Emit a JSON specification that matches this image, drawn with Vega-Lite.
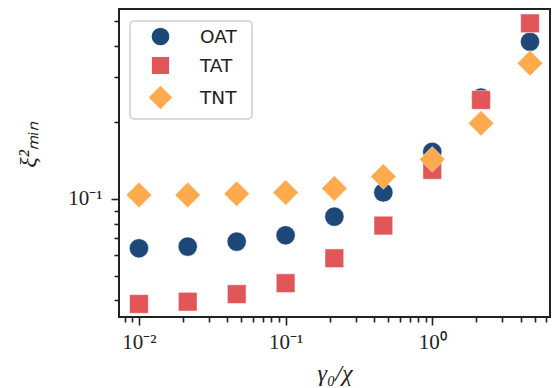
{
  "$schema": "https://vega.github.io/schema/vega-lite/v6.json",
  "width": 431,
  "height": 308,
  "autosize": "none",
  "padding": {"left": 119, "top": 9, "right": 5, "bottom": 71},
  "background": "white",
  "config": {
    "view": {"stroke": "#222222", "strokeWidth": 2},
    "axis": {"grid": false, "domain": false, "tickColor": "#222222", "tickWidth": 1.6, "labelFont": "Liberation Serif", "labelFontSize": 21, "labelColor": "#222222", "titleFont": "Liberation Serif", "titleFontSize": 24, "titleFontWeight": "normal", "titleColor": "#222222"},
    "legend": {"labelFont": "DejaVu Sans", "labelFontSize": 18.5, "labelColor": "#222222", "strokeWidth": 2}
  },
  "data": {
    "values": [
      {"series": "OAT", "x": 0.01, "y": 0.0640},
      {"series": "OAT", "x": 0.0215, "y": 0.0650},
      {"series": "OAT", "x": 0.0464, "y": 0.0680},
      {"series": "OAT", "x": 0.1, "y": 0.0720},
      {"series": "OAT", "x": 0.215, "y": 0.0852},
      {"series": "OAT", "x": 0.464, "y": 0.106},
      {"series": "OAT", "x": 1.0, "y": 0.153},
      {"series": "OAT", "x": 2.15, "y": 0.250},
      {"series": "OAT", "x": 4.64, "y": 0.414},
      {"series": "TAT", "x": 0.01, "y": 0.0387},
      {"series": "TAT", "x": 0.0215, "y": 0.0395},
      {"series": "TAT", "x": 0.0464, "y": 0.0423},
      {"series": "TAT", "x": 0.1, "y": 0.0467},
      {"series": "TAT", "x": 0.215, "y": 0.0585},
      {"series": "TAT", "x": 0.464, "y": 0.0786},
      {"series": "TAT", "x": 1.0, "y": 0.130},
      {"series": "TAT", "x": 2.15, "y": 0.2446},
      {"series": "TAT", "x": 4.64, "y": 0.489},
      {"series": "TNT", "x": 0.01, "y": 0.1037},
      {"series": "TNT", "x": 0.0215, "y": 0.1037},
      {"series": "TNT", "x": 0.0464, "y": 0.1047},
      {"series": "TNT", "x": 0.1, "y": 0.106},
      {"series": "TNT", "x": 0.215, "y": 0.110},
      {"series": "TNT", "x": 0.464, "y": 0.1224},
      {"series": "TNT", "x": 1.0, "y": 0.143},
      {"series": "TNT", "x": 2.15, "y": 0.198},
      {"series": "TNT", "x": 4.64, "y": 0.341}
    ]
  },
  "layer": [
    {
      "mark": {"type": "point", "filled": true, "opacity": 1, "stroke": "white", "strokeWidth": 0.5},
      "encoding": {
        "x": {"field": "x", "type": "quantitative", "scale": {"type": "log", "domain": [0.00731, 6.35], "nice": false},
          "axis": {"orient": "bottom", "values": [0.01, 0.1, 1], "labelExpr": "datum.value < 0.05 ? '10⁻²' : (datum.value < 0.5 ? '10⁻¹' : '10⁰')", "tickSize": 8, "labelPadding": 6, "title": "γ₀/χ", "titlePadding": 9, "titleFontStyle": "italic", "labelFlush": false, "labelOverlap": false}},
        "y": {"field": "y", "type": "quantitative", "scale": {"type": "log", "domain": [0.0344, 0.5566], "nice": false},
          "axis": {"orient": "left", "values": [0.1], "labelExpr": "'10⁻¹'", "tickSize": 8, "labelPadding": 9, "title": "ξ²ₘᵢₙ", "titlePadding": 27, "titleY": 135, "titleFontStyle": "italic", "labelFlush": false}},
        "shape": {"field": "series", "type": "nominal", "scale": {"domain": ["OAT", "TAT", "TNT"], "range": ["circle", "square", "diamond"]},
          "legend": {"orient": "none", "legendX": 11, "legendY": 12, "title": "\u00a0", "titleOrient": "right", "titlePadding": 10, "titleFontSize": 8, "strokeColor": "#d9d9d9", "cornerRadius": 4, "fillColor": "white", "padding": 5, "rowPadding": 3, "symbolOffset": 12, "labelOffset": 26}},
        "color": {"field": "series", "type": "nominal", "scale": {"domain": ["OAT", "TAT", "TNT"], "range": ["#1d4877", "#e15759", "#ffaa4c"]}},
        "size": {"field": "series", "type": "nominal", "scale": {"type": "ordinal", "domain": ["OAT", "TAT", "TNT"], "range": [370, 350, 650]}}
      }
    },
    {
      "mark": {"type": "point", "opacity": 0},
      "encoding": {
        "x": {"field": "x", "type": "quantitative",
          "axis": {"orient": "bottom", "values": [0.008, 0.009, 0.02, 0.03, 0.04, 0.05, 0.06, 0.07, 0.08, 0.09, 0.2, 0.3, 0.4, 0.5, 0.6, 0.7, 0.8, 0.9, 2, 3, 4, 5, 6], "labels": false, "tickSize": 5, "title": null}},
        "y": {"field": "y", "type": "quantitative",
          "axis": {"orient": "left", "values": [0.04, 0.05, 0.06, 0.07, 0.08, 0.09, 0.2, 0.3, 0.4, 0.5], "labels": false, "tickSize": 5, "title": null}}
      }
    }
  ],
  "resolve": {"axis": {"x": "independent", "y": "independent"}}
}
